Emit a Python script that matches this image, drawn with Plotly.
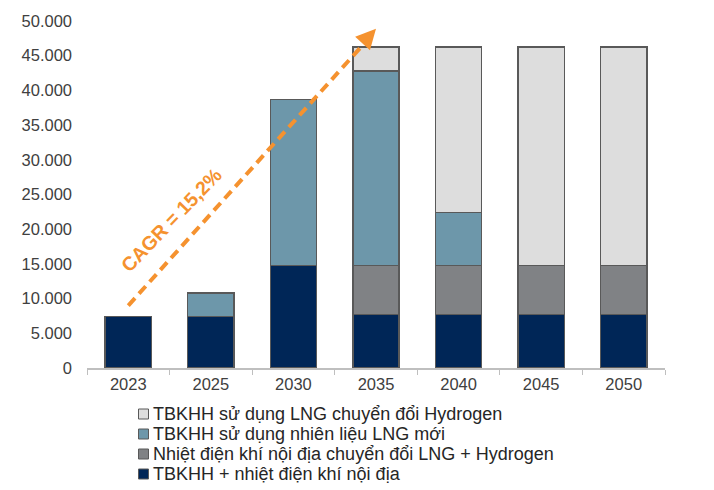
import plotly.graph_objects as go

years = ["2023", "2025", "2030", "2035", "2040", "2045", "2050"]
navy_vals = [7400, 7400, 14800, 7700, 7700, 7700, 7700]        # TBKHH + nhiệt điện khí nội địa
gray_vals = [0, 0, 0, 7100, 7100, 7100, 7100]                   # Nhiệt điện khí nội địa chuyển đổi LNG + Hydrogen
teal_vals = [0, 3400, 23900, 28000, 7600, 0, 0]                 # TBKHH sử dụng nhiên liệu LNG mới
light_vals = [0, 0, 0, 3450, 23850, 31450, 31450]               # TBKHH sử dụng LNG chuyển đổi Hydrogen

names = [
    "TBKHH + nhiệt điện khí nội địa",
    "Nhiệt điện khí nội địa chuyển đổi LNG + Hydrogen",
    "TBKHH sử dụng nhiên liệu LNG mới",
    "TBKHH sử dụng LNG chuyển đổi Hydrogen",
]
colors = ["#002657", "#808285", "#6D97AA", "#DDDDDD"]
series = [navy_vals, gray_vals, teal_vals, light_vals]

y_ticks = [0, 5000, 10000, 15000, 20000, 25000, 30000, 35000, 40000, 45000, 50000]

cagr_text = "<b>CAGR = 15,2%</b>"
arrow_start = (0, 9000)
arrow_end = (3, 48900)

FONT = "Liberation Sans, Arial, sans-serif"

fig = go.Figure()
for name, col, vals in zip(names, colors, series):
    fig.add_trace(go.Bar(
        x=years, y=vals, name=name, showlegend=False,
        marker=dict(color=col, line=dict(color="#595959", width=1.5)),
    ))

fig.update_layout(
    barmode="stack",
    bargap=0.44,
    width=714, height=490,
    margin=dict(l=87, r=49, t=21, b=122, autoexpand=False),
    paper_bgcolor="white", plot_bgcolor="white",
    separators=",.",
    font=dict(family=FONT, size=16.5, color="#404040"),
    showlegend=False,
)
fig.update_xaxes(
    type="category",
    showline=True, linecolor="#BFBFBF", linewidth=1.5,
    ticks="outside", tickson="boundaries", ticklen=5, tickcolor="#BFBFBF",
    tickfont=dict(family=FONT, size=16.5, color="#404040"),
    showgrid=False,
)
fig.update_yaxes(
    range=[0, 50000], tickvals=y_ticks, tickformat=",d",
    showline=False, showgrid=False, zeroline=False,
    tickfont=dict(family=FONT, size=16.5, color="#404040"),
    ticks="", ticklabelstandoff=14,
)

# custom compact legend (top to bottom: reversed trace order)
plot_top, plot_bottom, plot_left, plot_w = 21, 368, 87, 578
def py(p):
    return (plot_bottom - p) / (plot_bottom - plot_top)
def px(p):
    return (p - plot_left) / plot_w
row_centers = [414, 434, 454, 474]
for i, idx in enumerate([3, 2, 1, 0]):
    yc = row_centers[i]
    fig.add_shape(type="rect", xref="paper", yref="paper",
                  x0=px(138.5), x1=px(148.5), y0=py(yc + 5), y1=py(yc - 5),
                  fillcolor=colors[idx], line=dict(color="#595959", width=1))
    fig.add_annotation(x=px(151), y=py(yc), xref="paper", yref="paper",
                       xanchor="left", yanchor="middle", showarrow=False,
                       text=names[idx],
                       font=dict(family=FONT, size=18, color="#262626"))

orange = "#F5922F"
# dashed trend line
fig.add_shape(type="line", xref="x", yref="y",
              x0=arrow_start[0], y0=arrow_start[1],
              x1=arrow_end[0] - 0.08, y1=arrow_end[1] - 1300,
              line=dict(color=orange, width=4, dash="10px,6px"))
# arrowhead
fig.add_annotation(x=arrow_end[0], y=arrow_end[1], xref="x", yref="y",
                   ax=-10, ay=11, showarrow=True, arrowhead=2,
                   arrowsize=1, arrowwidth=4, arrowcolor=orange, text="")
fig.add_annotation(x=0.52, y=21300, xref="x", yref="y", text=cagr_text,
                   showarrow=False, textangle=-46,
                   font=dict(family=FONT, size=19.5, color=orange))

fig.write_html("out.html")
